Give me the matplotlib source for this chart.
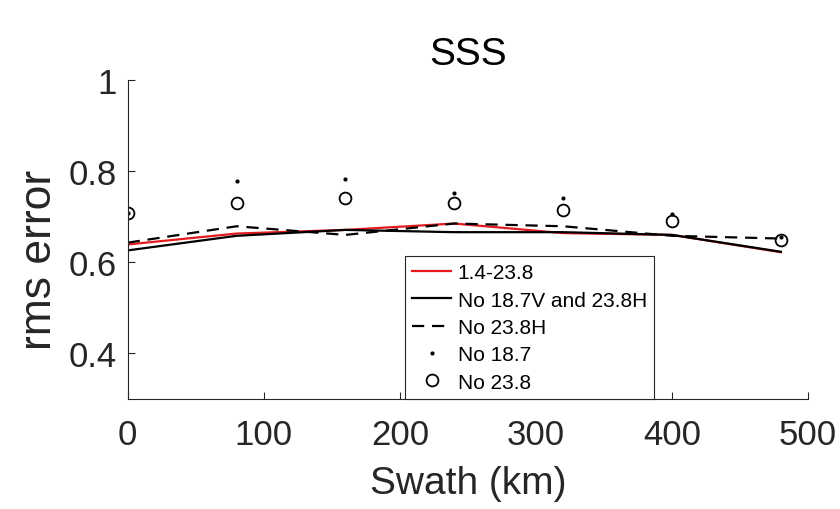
import matplotlib.pyplot as plt

plt.rcParams["font.family"] = ["Liberation Sans", "DejaVu Sans"]

swath = [0, 80, 160, 240, 320, 400, 480]
all_ch = [0.639, 0.663, 0.671, 0.685, 0.664, 0.660, 0.622]
no_187v_238h = [0.626, 0.658, 0.671, 0.666, 0.666, 0.660, 0.623]
no_238h = [0.643, 0.679, 0.660, 0.685, 0.679, 0.658, 0.652]
no_187 = [0.709, 0.778, 0.782, 0.751, 0.741, 0.707, 0.656]
no_238 = [0.709, 0.729, 0.741, 0.729, 0.715, 0.690, 0.649]

gray = "#262626"

fig = plt.figure(figsize=(8.4, 5.1), dpi=100)
ax = fig.add_axes([0.152, 0.216, 0.81, 0.625])

ax.plot(swath, all_ch, color="#e41a1c", lw=1.6, label="1.4-23.8")
ax.plot(swath, no_187v_238h, color="black", lw=1.6, label="No 18.7V and 23.8H")
ax.plot(swath, no_238h, color="black", lw=1.6, ls=(0, (5.5, 3.5)), label="No 23.8H")
ax.plot(swath, no_187, ls="none", marker=".", ms=4, color="black", label="No 18.7")
ax.plot(swath, no_238, ls="none", marker="o", ms=8.5, mfc="none", mec="black",
        mew=1.3, label="No 23.8")

ax.set_xlim(0, 500)
ax.set_ylim(0.3, 1)
ax.set_xticks([0, 100, 200, 300, 400, 500])
ax.set_yticks([0.4, 0.6, 0.8, 1])
ax.set_yticklabels(["0.4", "0.6", "0.8", "1"])

for s in ["top", "right"]:
    ax.spines[s].set_visible(False)
for s in ["left", "bottom"]:
    ax.spines[s].set_color(gray)
    ax.spines[s].set_linewidth(0.8)
ax.tick_params(direction="in", length=5, width=0.8, colors=gray, labelsize=25)
ax.tick_params(axis="x", pad=14)
ax.tick_params(axis="y", pad=8)

ax.set_xlabel("Swath (km)", fontsize=28, color=gray)
ax.xaxis.set_label_coords(0.5, -0.207)
ax.set_ylabel("rms error", fontsize=32, color=gray)
ax.yaxis.set_label_coords(-0.1, 0.439)
ax.set_title("SSS", fontsize=28, color="black", pad=11.5)

leg = ax.legend(loc="lower left", bbox_to_anchor=(0.407, 0.0), fontsize=15,
                frameon=True, fancybox=False, framealpha=1, edgecolor=gray,
                handlelength=1.9, handletextpad=0.3, borderpad=0.35,
                labelspacing=0.4, borderaxespad=0)
leg.get_frame().set_linewidth(0.8)

fig.savefig("out.png", dpi=100)
